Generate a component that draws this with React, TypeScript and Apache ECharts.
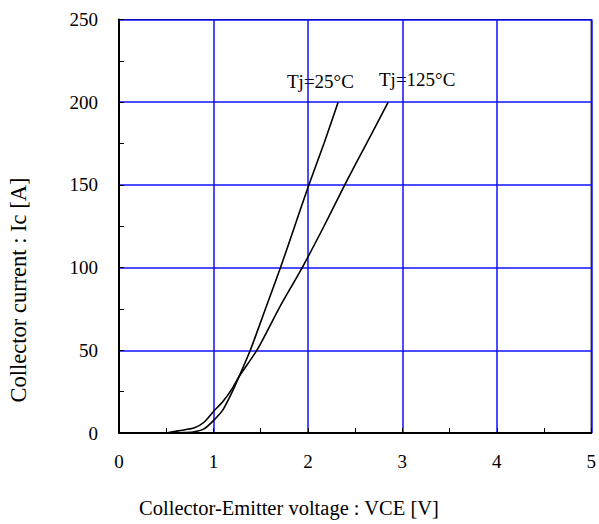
import React, { useEffect, useRef } from "react";
import * as echarts from "echarts";

// Tj = 25°C : [VCE (V), Ic (A)]
const vce25 = [0.55, 0.7, 0.8, 0.9, 1.0, 1.1, 1.2, 1.27, 1.39, 1.55, 1.71, 1.86, 2.01, 2.17, 2.32];
const ic25 = [0, 0.3, 0.8, 2.5, 7.5, 14, 25, 34, 50, 75, 100, 125, 150, 175, 200];

// Tj = 125°C
const vce125 = [0.5, 0.6, 0.7, 0.8, 0.9, 1.0, 1.1, 1.2, 1.27, 1.47, 1.7, 1.94, 2.17, 2.39, 2.62, 2.85];
const ic125 = [0, 1, 2, 3.2, 6.5, 13, 19, 27, 34, 51, 76, 100, 125, 150, 175, 200];

const xTicks = [0, 1, 2, 3, 4, 5];
const yTicks = [0, 50, 100, 150, 200, 250];

const label25 = "Tj=25°C";
const label125 = "Tj=125°C";
const xTitle = "Collector-Emitter voltage : VCE [V]";
const yTitle = "Collector current : Ic [A]";

const FONT = "'Liberation Serif', 'Times New Roman', serif";

export default function App() {
  const ref = useRef<HTMLDivElement>(null);
  useEffect(() => {
    if (!ref.current) return;
    const chart = echarts.init(ref.current, null, { renderer: "svg" });
    const pairs = (xs: number[], ys: number[]) => xs.map((x, i) => [x, ys[i]]);
    chart.setOption({
      animation: false,
      backgroundColor: "#ffffff",
      textStyle: { fontFamily: FONT },
      grid: {
        left: 119,
        top: 19.5,
        right: 4,
        bottom: 91,
        show: true,
        borderColor: "#000",
        borderWidth: 1.2,
        containLabel: false,
      },
      xAxis: {
        type: "value",
        min: xTicks[0],
        max: xTicks[xTicks.length - 1],
        interval: 1,
        axisLine: { show: true, lineStyle: { color: "#000", width: 2 } },
        axisTick: { show: true, inside: true, length: 5, lineStyle: { color: "#000" } },
        minorTick: { show: true, splitNumber: 2, length: 5, lineStyle: { color: "#000" } },
        splitLine: { show: true, lineStyle: { color: "#1010ff", width: 1.5 } },
        axisLabel: { color: "#000", fontSize: 19, fontFamily: FONT, margin: 19 },
      },
      yAxis: {
        type: "value",
        min: yTicks[0],
        max: yTicks[yTicks.length - 1],
        interval: 50,
        axisLine: { show: true, lineStyle: { color: "#000", width: 2 } },
        axisTick: { show: true, inside: true, length: 5, lineStyle: { color: "#000" } },
        minorTick: { show: true, splitNumber: 2, length: 5, lineStyle: { color: "#000" } },
        splitLine: { show: true, lineStyle: { color: "#1010ff", width: 1.5 } },
        axisLabel: { color: "#000", fontSize: 19, fontFamily: FONT, margin: 21 },
      },
      series: [
        {
          name: label25,
          type: "line",
          data: pairs(vce25, ic25),
          smooth: 0.25,
          showSymbol: false,
          z: 5,
          lineStyle: { color: "#000", width: 1.6 },
        },
        {
          name: label125,
          type: "line",
          data: pairs(vce125, ic125),
          smooth: 0.25,
          showSymbol: false,
          z: 5,
          lineStyle: { color: "#000", width: 1.6 },
        },
      ],
      graphic: [
        {
          type: "text",
          left: 287,
          top: 72,
          style: { text: label25, fontSize: 19, fontFamily: FONT, fill: "#000" },
        },
        {
          type: "text",
          left: 379,
          top: 70,
          style: { text: label125, fontSize: 19, fontFamily: FONT, fill: "#000" },
        },
        {
          type: "text",
          x: 289,
          y: 508,
          style: {
            text: xTitle,
            fontSize: 20.5,
            fontFamily: FONT,
            fill: "#000",
            align: "center",
            verticalAlign: "middle",
          },
        },
        {
          type: "text",
          x: 18,
          y: 290,
          rotation: Math.PI / 2,
          style: {
            text: yTitle,
            fontSize: 22.5,
            fontFamily: FONT,
            fill: "#000",
            align: "center",
            verticalAlign: "middle",
          },
        },
      ],
    });
    return () => chart.dispose();
  }, []);
  return (
    <div
      ref={ref}
      style={{ position: "fixed", left: 0, top: 0, width: 599, height: 524, background: "#fff" }}
    />
  );
}
